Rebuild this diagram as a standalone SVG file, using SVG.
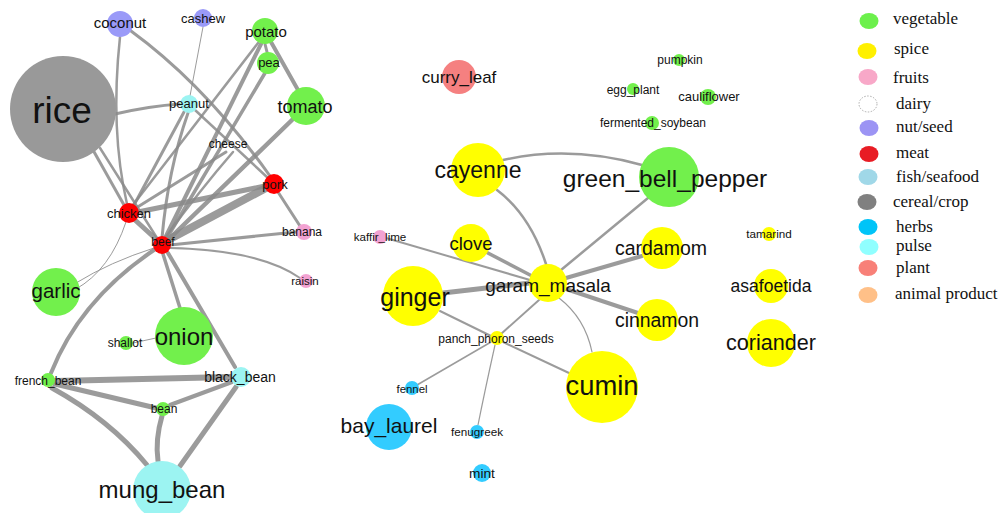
<svg xmlns="http://www.w3.org/2000/svg" width="1001" height="513" viewBox="0 0 1001 513">
<style>
text{font-family:"Liberation Sans",Arial,sans-serif;fill:#111;text-anchor:middle}
.e{fill:none;stroke:#8a8a8a;stroke-opacity:0.85;stroke-linecap:round}
.veg{fill:#72f04c}.spi{fill:#ffff00}.fru{fill:#f2a2d2}.nut{fill:#9a9af8}.mea{fill:#ff0000}
.pul{fill:#9cf4f2}.cer{fill:#999999}.her{fill:#33ccff}.pla{fill:#f58080}
.lg text{font-family:"Liberation Serif","Times New Roman",serif;text-anchor:start;fill:#111}
</style>
<rect width="1001" height="513" fill="#fff"/>
<g id="connectors">
<path class="e" stroke-width="2.5" d="M120,37 Q110,130 127,204"/>
<path class="e" stroke-width="3" d="M131,31 Q205,85 270,176"/>
<path class="e" stroke-width="1" d="M203,27 L190,96"/>
<path class="e" stroke-width="3" d="M115,114 Q150,106 180,104"/>
<path class="e" stroke-width="3" d="M93,150 L124,205"/>
<path class="e" stroke-width="2.5" d="M100,148 L157,238"/>
<path class="e" stroke-width="3" d="M184,112 L134,205"/>
<path class="e" stroke-width="3" d="M188,113 Q168,170 162,238"/>
<path class="e" stroke-width="2.5" d="M195,110 L268,178"/>
<path class="e" stroke-width="4" d="M261,44 L165,238"/>
<path class="e" stroke-width="2.5" d="M258,43 L133,205"/>
<path class="e" stroke-width="3.5" d="M265,73 L167,238"/>
<path class="e" stroke-width="3" d="M265,44 L267,52"/>
<path class="e" stroke-width="4" d="M271,42 L298,90"/>
<path class="e" stroke-width="4.5" d="M292,120 L168,240"/>
<path class="e" stroke-width="3" d="M226,152 L136,208"/>
<path class="e" stroke-width="2.5" d="M233,152 Q200,190 165,238"/>
<path class="e" stroke-width="5" d="M138,212 L265,186"/>
<path class="e" stroke-width="8" d="M168,240 L266,188"/>
<path class="e" stroke-width="5" d="M135,220 L157,240"/>
<path class="e" stroke-width="3" d="M170,245 L296,232"/>
<path class="e" stroke-width="3" d="M278,192 L300,226"/>
<path class="e" stroke-width="2" d="M170,248 Q260,250 300,278"/>
<path class="e" stroke-width="1" d="M154,248 Q110,262 76,283"/>
<path class="e" stroke-width="1" d="M126,222 Q110,270 76,289"/>
<path class="e" stroke-width="3.5" d="M163,254 L180,308"/>
<path class="e" stroke-width="4" d="M154,250 Q80,300 51,373"/>
<path class="e" stroke-width="4" d="M168,253 L235,367"/>
<path class="e" stroke-width="1" d="M133,343 L156,338"/>
<path class="e" stroke-width="6" d="M55,381 L230,377"/>
<path class="e" stroke-width="5" d="M55,384 L156,408"/>
<path class="e" stroke-width="5" d="M52,388 Q110,420 147,465"/>
<path class="e" stroke-width="4" d="M170,405 L232,382"/>
<path class="e" stroke-width="5" d="M162,416 Q155,440 158,461"/>
<path class="e" stroke-width="5" d="M236,387 L180,466"/>
<path class="e" stroke-width="2.5" d="M503,160 Q570,145 642,165"/>
<path class="e" stroke-width="2.5" d="M497,190 Q530,215 546,264"/>
<path class="e" stroke-width="2.5" d="M648,198 L561,270"/>
<path class="e" stroke-width="2" d="M386,238 L530,280"/>
<path class="e" stroke-width="3.5" d="M486,252 L532,276"/>
<path class="e" stroke-width="4" d="M642,256 L566,278"/>
<path class="e" stroke-width="5" d="M443,293 L530,283"/>
<path class="e" stroke-width="4" d="M638,313 L566,289"/>
<path class="e" stroke-width="1.2" d="M559,298 Q585,318 592,352"/>
<path class="e" stroke-width="2" d="M539,300 L501,334"/>
<path class="e" stroke-width="2" d="M440,311 L491,336"/>
<path class="e" stroke-width="2" d="M503,342 L569,373"/>
<path class="e" stroke-width="1.5" d="M491,342 L417,385"/>
<path class="e" stroke-width="1.2" d="M495,345 Q485,390 478,425"/>
</g>
<g id="n-rice"><circle class="cer" cx="63" cy="109" r="53"/><text x="62" y="123" font-size="37">rice</text></g>
<g id="n-coconut"><circle class="nut" cx="120" cy="24" r="13"/><text x="120" y="28" font-size="15">coconut</text></g>
<g id="n-cashew"><circle class="nut" cx="203" cy="18" r="9"/><text x="203" y="23" font-size="13">cashew</text></g>
<g id="n-potato"><circle class="veg" cx="265" cy="31" r="13"/><text x="266" y="37" font-size="15">potato</text></g>
<g id="n-pea"><circle class="veg" cx="268" cy="63" r="11"/><text x="269" y="67" font-size="13">pea</text></g>
<g id="n-tomato"><circle class="veg" cx="306" cy="106" r="19"/><text x="305" y="113" font-size="18">tomato</text></g>
<g id="n-peanut"><circle class="pul" cx="189" cy="104" r="9"/><text x="189" y="108" font-size="13">peanut</text></g>
<g id="n-cheese"><text x="228" y="148" font-size="12">cheese</text></g>
<g id="n-pork"><circle class="mea" cx="274" cy="184" r="10"/><text x="275" y="189" font-size="13">pork</text></g>
<g id="n-chicken"><circle class="mea" cx="129" cy="213" r="10"/><text x="129" y="218" font-size="13">chicken</text></g>
<g id="n-beef"><circle class="mea" cx="162" cy="245" r="9"/><text x="163" y="246" font-size="12">beef</text></g>
<g id="n-banana"><circle class="fru" cx="304" cy="232" r="8"/><text x="302" y="236" font-size="12">banana</text></g>
<g id="n-raisin"><circle class="fru" cx="306" cy="281" r="7"/><text x="305" y="285" font-size="11.5">raisin</text></g>
<g id="n-garlic"><circle class="veg" cx="56" cy="292" r="24"/><text x="56" y="298" font-size="20.5">garlic</text></g>
<g id="n-onion"><circle class="veg" cx="184" cy="336" r="29"/><text x="184" y="345" font-size="24">onion</text></g>
<g id="n-shallot"><circle class="veg" cx="126" cy="343" r="7"/><text x="125" y="347" font-size="12">shallot</text></g>
<g id="n-french_bean"><circle class="veg" cx="48" cy="380" r="7"/><text x="48" y="385" font-size="12">french_bean</text></g>
<g id="n-black_bean"><circle class="pul" cx="241" cy="377" r="10"/><text x="240" y="382" font-size="14">black_bean</text></g>
<g id="n-bean"><circle class="veg" cx="163" cy="409" r="7"/><text x="164" y="413" font-size="12">bean</text></g>
<g id="n-mung_bean"><circle class="pul" cx="162" cy="490" r="29"/><text x="162" y="498" font-size="24">mung_bean</text></g>
<g id="n-curry_leaf"><circle class="pla" cx="459" cy="77" r="17"/><text x="459" y="83" font-size="17">curry_leaf</text></g>
<g id="n-pumpkin"><circle class="veg" cx="679" cy="60" r="6"/><text x="680" y="64" font-size="12">pumpkin</text></g>
<g id="n-egg_plant"><circle class="veg" cx="633" cy="89" r="6"/><text x="633" y="94" font-size="12">egg_plant</text></g>
<g id="n-cauliflower"><circle class="veg" cx="708" cy="97" r="8"/><text x="709" y="101" font-size="13">cauliflower</text></g>
<g id="n-fermented_soybean"><circle class="veg" cx="652" cy="123" r="7"/><text x="653" y="127" font-size="12">fermented_soybean</text></g>
<g id="n-cayenne"><circle class="spi" cx="478" cy="170" r="27"/><text x="478" y="178" font-size="23">cayenne</text></g>
<g id="n-green_bell_pepper"><circle class="veg" cx="669" cy="177" r="30"/><text x="665" y="187" font-size="24.5">green_bell_pepper</text></g>
<g id="n-kaffir_lime"><circle class="fru" cx="380" cy="237" r="7"/><text x="380" y="241" font-size="11.6">kaffir_lime</text></g>
<g id="n-clove"><circle class="spi" cx="471" cy="243" r="19"/><text x="471" y="250" font-size="18.5">clove</text></g>
<g id="n-cardamom"><circle class="spi" cx="662" cy="248" r="21"/><text x="661" y="255" font-size="19.5">cardamom</text></g>
<g id="n-tamarind"><circle class="spi" cx="769" cy="234" r="7"/><text x="769" y="238" font-size="11.7">tamarind</text></g>
<g id="n-garam_masala"><circle class="spi" cx="548" cy="283" r="19"/><text x="548" y="292" font-size="19">garam_masala</text></g>
<g id="n-ginger"><circle class="spi" cx="413" cy="296" r="30"/><text x="415" y="306" font-size="25">ginger</text></g>
<g id="n-asafoetida"><circle class="spi" cx="771" cy="286" r="17"/><text x="771" y="292" font-size="17.5">asafoetida</text></g>
<g id="n-cinnamon"><circle class="spi" cx="657" cy="320" r="21"/><text x="657" y="327" font-size="19.4">cinnamon</text></g>
<g id="n-coriander"><circle class="spi" cx="771" cy="343" r="24"/><text x="771" y="350" font-size="21.6">coriander</text></g>
<g id="n-panch_phoron_seeds"><circle class="spi" cx="497" cy="338" r="7"/><text x="496" y="343" font-size="12">panch_phoron_seeds</text></g>
<g id="n-cumin"><circle class="spi" cx="602" cy="387" r="36"/><text x="602" y="395" font-size="27.4">cumin</text></g>
<g id="n-fennel"><circle class="her" cx="412" cy="388" r="7"/><text x="412" y="393" font-size="11.4">fennel</text></g>
<g id="n-bay_laurel"><circle class="her" cx="389" cy="427" r="23"/><text x="389" y="433" font-size="21">bay_laurel</text></g>
<g id="n-fenugreek"><circle class="her" cx="477" cy="432" r="7"/><text x="477" y="436" font-size="11.7">fenugreek</text></g>
<g id="n-mint"><circle class="her" cx="482" cy="473" r="9"/><text x="482" y="478" font-size="13.7">mint</text></g>
<g id="legend" class="lg">
<ellipse cx="869" cy="21" rx="9.5" ry="8" fill="#6cf04c"/><text x="893" y="24" font-size="17">vegetable</text>
<ellipse cx="867" cy="51" rx="9.5" ry="8" fill="#fff000"/><text x="894" y="54" font-size="17">spice</text>
<ellipse cx="868" cy="77" rx="9.5" ry="8" fill="#f8a8c8"/><text x="893" y="83" font-size="17">fruits</text>
<ellipse cx="868" cy="104" rx="9" ry="8" fill="#fff" stroke="#999" stroke-width="0.8" stroke-dasharray="1.5,1.5"/><text x="896" y="109" font-size="17">dairy</text>
<ellipse cx="869" cy="128" rx="9.5" ry="8" fill="#9c94f4"/><text x="896" y="132" font-size="17">nut/seed</text>
<ellipse cx="869" cy="154" rx="9.5" ry="8" fill="#e81c24"/><text x="896" y="158" font-size="17">meat</text>
<ellipse cx="868" cy="177" rx="9.5" ry="8" fill="#a0d8e8"/><text x="896" y="182" font-size="17">fish/seafood</text>
<ellipse cx="867" cy="202" rx="9.5" ry="8" fill="#808080"/><text x="893" y="207" font-size="17">cereal/crop</text>
<ellipse cx="868" cy="227" rx="9.5" ry="8" fill="#00c4f8"/><text x="896" y="232" font-size="17">herbs</text>
<ellipse cx="869" cy="247" rx="9.5" ry="8" fill="#90ffff"/><text x="896" y="251" font-size="17">pulse</text>
<ellipse cx="868" cy="268" rx="9.5" ry="8" fill="#f88078"/><text x="896" y="273" font-size="17">plant</text>
<ellipse cx="868" cy="295" rx="9.5" ry="8" fill="#ffc088"/><text x="895" y="299" font-size="17">animal product</text>
</g>
</svg>
